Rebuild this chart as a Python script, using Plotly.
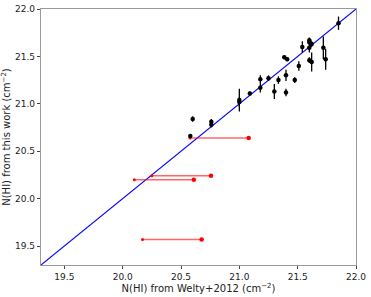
import plotly.graph_objects as go

# Black points: Welty+2012 (x), this work (y), y error
welty = [21.85, 21.60, 21.60, 21.62, 21.54, 21.60, 21.60, 21.62, 21.72, 21.74,
         21.385, 21.41, 21.51, 21.475, 21.40, 21.40, 21.335, 21.30, 21.25, 21.18,
         21.18, 21.09, 21.00, 21.00, 20.76, 20.76, 20.60, 20.58]
thiswork = [21.85, 21.67, 21.65, 21.63, 21.60, 21.59, 21.46, 21.44, 21.59, 21.47,
            21.49, 21.47, 21.40, 21.25, 21.30, 21.12, 21.25, 21.13, 21.27, 21.26,
            21.17, 21.11, 21.04, 21.02, 20.81, 20.78, 20.84, 20.66]
yerr = [0.07, 0.03, 0.03, 0.03, 0.06, 0.05, 0.03, 0.10, 0.12, 0.11,
        0.02, 0.02, 0.05, 0.03, 0.06, 0.04, 0.04, 0.08, 0.03, 0.04,
        0.05, 0.02, 0.12, 0.05, 0.03, 0.03, 0.03, 0.02]

# Red limits: right end and left end in x, y value
red_right = [21.08, 20.757, 20.61, 20.677]
red_left = [20.577, 20.25, 20.10, 20.17]
red_y = [20.64, 20.24, 20.20, 19.57]

axis_range = [19.3, 22.0]
ticks = [19.5, 20.0, 20.5, 21.0, 21.5, 22.0]
tick_labels = ["19.5", "20.0", "20.5", "21.0", "21.5", "22.0"]

fig = go.Figure()

# one-to-one line
fig.add_trace(go.Scatter(x=axis_range, y=axis_range, mode="lines",
                         line=dict(color="blue", width=1.1), showlegend=False,
                         hoverinfo="skip"))

# red limit lines
for xr, xl, yy in zip(red_right, red_left, red_y):
    fig.add_trace(go.Scatter(x=[xl, xr], y=[yy, yy], mode="lines",
                             line=dict(color="rgba(255,0,0,0.6)", width=1.5),
                             showlegend=False))
fig.add_trace(go.Scatter(x=red_left, y=red_y, mode="markers",
                         marker=dict(color="red", size=3, symbol="circle"),
                         showlegend=False))
fig.add_trace(go.Scatter(x=red_right, y=red_y, mode="markers",
                         marker=dict(color="red", size=4.5, symbol="circle"),
                         showlegend=False))

# black points
fig.add_trace(go.Scatter(x=welty, y=thiswork, mode="markers",
                         marker=dict(color="black", size=4.5),
                         error_y=dict(type="data", array=yerr, visible=True,
                                      color="black", thickness=1.3, width=0),
                         showlegend=False))

tickfont = dict(family="DejaVu Sans", size=9, color="#222")
common = dict(range=axis_range, tickvals=ticks, ticktext=tick_labels,
              showgrid=False, zeroline=False, ticks="outside", ticklen=3,
              tickcolor="#444", showline=True, linecolor="#999", linewidth=1.2,
              mirror=True, tickfont=tickfont, automargin=False,
              ticklabeloverflow="allow")
fig.update_layout(
    width=371, height=297,
    margin=dict(l=41, r=15, t=9, b=32),
    paper_bgcolor="white", plot_bgcolor="white",
    font=dict(family="DejaVu Sans", size=10, color="#222"),
    xaxis=dict(**common,
               title=dict(text="N(HI) from Welty+2012 (cm<sup>−2</sup>)",
                          font=dict(family="DejaVu Sans", size=10), standoff=2)),
    yaxis=dict(**common,
               title=dict(text="N(HI) from this work (cm<sup>−2</sup>)",
                          font=dict(family="DejaVu Sans", size=10), standoff=2)),
)

fig.write_html("out.html", config={"displayModeBar": False},
               post_script="document.body.style.margin='0';document.body.style.overflow='hidden';")
